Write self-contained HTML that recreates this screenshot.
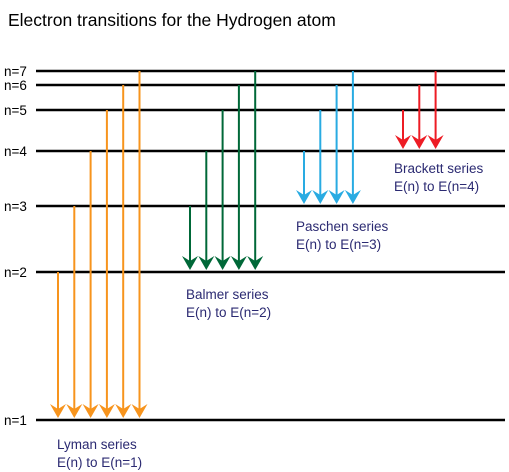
<!DOCTYPE html>
<html><head><meta charset="utf-8"><style>
body{margin:0;background:#fff}
svg{display:block;font-family:"Liberation Sans",sans-serif}
</style></head><body>
<svg id="c" width="509" height="472" viewBox="0 0 509 472">
<text x="8" y="26" font-size="17.5" fill="#000">Electron transitions for the Hydrogen atom</text>
<g id="levels"></g><g id="arrows"></g>
<g fill="#2b2a72" font-size="13.5">
<text x="57" y="449">Lyman series</text>
<text x="57" y="467">E(n) to E(n=1)</text>
<text x="186" y="299">Balmer series</text>
<text x="186" y="317">E(n) to E(n=2)</text>
<text x="296" y="231">Paschen series</text>
<text x="296" y="249">E(n) to E(n=3)</text>
<text x="394" y="173">Brackett series</text>
<text x="394" y="191">E(n) to E(n=4)</text>
</g>
</svg>
<script>
const levelNums=[1,2,3,4,5,6,7];
const levelY=[420,272,206,151,110,85,71];
const seriesNames=["lyman","balmer","paschen","brackett"];
const seriesLower=[1,2,3,4];
const seriesColors=["#f7941d","#006838","#29abe2","#ed1c24"];
const seriesX0=[58,190,304,403];
const ns="http://www.w3.org/2000/svg";
const yOf=n=>levelY[levelNums.indexOf(n)];
const L=document.getElementById('levels'),A=document.getElementById('arrows');
levelNums.forEach(n=>{
 const l=document.createElementNS(ns,'line');
 l.setAttribute('x1',36);l.setAttribute('x2',505);l.setAttribute('y1',yOf(n));l.setAttribute('y2',yOf(n));
 l.setAttribute('stroke','#000');l.setAttribute('stroke-width',2.5);
 
 
 L.appendChild(l);
 const t=document.createElementNS(ns,'text');
 t.setAttribute('x',4);t.setAttribute('y',yOf(n)+5);t.setAttribute('font-size',13.5);t.textContent='n='+n;
 
 
 L.appendChild(t);
});
seriesNames.forEach((s,i)=>{
 const lo=seriesLower[i];let k=0;
 for(let n=lo+1;n<=7;n++,k++){
  const x=seriesX0[i]+k*16.3,y1=yOf(n),y2=yOf(lo)-2;
  const g=document.createElementNS(ns,'g');
  
  
  const l=document.createElementNS(ns,'line');
  l.setAttribute('x1',x);l.setAttribute('x2',x);l.setAttribute('y1',y1);l.setAttribute('y2',y2-9);
  l.setAttribute('stroke',seriesColors[i]);l.setAttribute('stroke-width',2);
  g.appendChild(l);
  const p=document.createElementNS(ns,'path');
  p.setAttribute('d',`M${x-8},${y2-14} L${x},${y2-9} L${x+8},${y2-14} L${x},${y2} Z`);
  p.setAttribute('fill',seriesColors[i]);
  g.appendChild(p);
  A.appendChild(g);
 }
});
</script>
</body></html>
